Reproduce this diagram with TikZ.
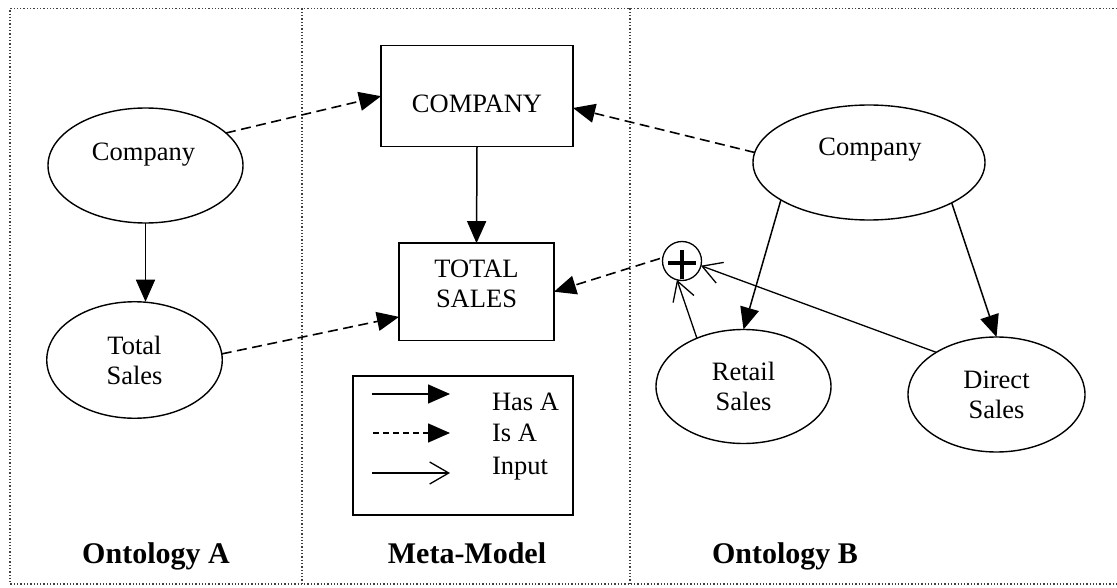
\documentclass[tikz,border=0pt]{standalone}
\usepackage{fontspec}
\setmainfont{Liberation Serif}
\usetikzlibrary{arrows.meta,shapes.geometric}
\begin{document}
\begin{tikzpicture}[x=1pt,y=-1pt,
  every node/.style={inner sep=0pt, outer sep=0pt},
  txt/.style={font=\fontsize{26.5}{30}\selectfont, align=center},
  ttl/.style={font=\fontsize{30}{34}\selectfont\bfseries},
  oval/.style={draw, ellipse, line width=1.4pt},
  box/.style={draw, rectangle, line width=1.4pt},
  frame/.style={line width=1.3pt, black!75, dash pattern=on 1.3pt off 2pt},
  hasa/.style={line width=1.5pt, -{Triangle[length=22pt,width=19pt]}},
  isa/.style={line width=1.6pt, dash pattern=on 10pt off 5.5pt, -{Triangle[length=22pt,width=19pt]}},
  input/.style={line width=1.3pt, -{Straight Barb[length=19pt,width=22pt]}},
]
\useasboundingbox (0,0) rectangle (1117,588);

% dotted frame and column dividers
\draw[frame] (1117,8.5) -- (10,8.5) -- (10,584) -- (1117,584);
\draw[frame] (302,8.5) -- (302,584);
\draw[frame] (630,8.5) -- (630,584);

% Ontology A
\node[oval, minimum width=195pt, minimum height=115pt] (coA) at (145.5,165.5) {};
\node[txt, anchor=base] (coAtxt) at (143.5,160.8) {Company};
\node[oval, txt, minimum width=175.5pt, minimum height=116.5pt] (tsA) at (134.5,360) {Total\\Sales};

% Meta-model
\node[box, minimum width=192pt, minimum height=101pt] (coM) at (477,96.2) {};
\node[txt, anchor=base] (coMtxt) at (477,112.1) {COMPANY};
\node[box, minimum width=155pt, minimum height=97pt] (tsM) at (476.5,291.7) {};
\node[txt] (tsMtxt) at (476.5,283.5) {TOTAL\\SALES};

% legend
\node[box, minimum width=220pt, minimum height=139pt] (leg) at (463,445.5) {};
\coordinate (l1a) at (372,394); \coordinate (l1b) at (450,394);
\coordinate (l2a) at (373,433); \coordinate (l2b) at (450,433);
\coordinate (l3a) at (372,473); \coordinate (l3b) at (450,473);
\draw[hasa] (l1a) -- (l1b);
\draw[isa, dash pattern=on 6pt off 4pt] (l2a) -- (l2b);
\draw[input] (l3a) -- (l3b);
\node[txt, anchor=base west] (lg1) at (492,410.5) {Has A};
\node[txt, anchor=base west] (lg2) at (492,441.8) {Is A};
\node[txt, anchor=base west] (lg3) at (492,474.5) {Input};

% Ontology B
\node[oval, minimum width=232pt, minimum height=115pt] (coB) at (869,162.5) {};
\node[txt, anchor=base] (coBtxt) at (870,155.5) {Company};
\node[oval, txt, minimum width=175pt, minimum height=114pt] (rsB) at (743.5,386.5) {Retail\\Sales};
\node[oval, txt, minimum width=177pt, minimum height=115pt] (dsB) at (996.5,394.5) {Direct\\Sales};
\node[draw, circle, line width=1.3pt, minimum size=39pt] (sum) at (682,261) {};
\draw[line width=3.6pt] ([xshift=-14pt,yshift=-2pt]sum.center) -- ([xshift=14pt,yshift=-2pt]sum.center);
\draw[line width=4pt] ([yshift=-18pt]sum.center) -- ([yshift=11pt]sum.center);

% has-a links
\draw[hasa] (coA.south) -- (coA.south |- tsA.north);
\draw[hasa] (coM.south) -- (tsM.north);
\draw[hasa] (coB.203) -- (rsB.north);
\draw[hasa] (coB.-26) -- (dsB.north);

% is-a links
\draw[isa] (coA.22) -- (coM.west);
\draw[isa] (tsA.4) -- (tsM.198);
\draw[isa] (coB.175) -- (coM.-7);
\draw[isa, shorten <=3pt] (sum.170) -- (tsM.east);

% inputs to the sum
\draw[input] (rsB.134) -- (sum.-105);
\draw[input] (dsB.145) -- (sum.-14);

% column titles
\node[ttl, anchor=base] (tA) at (156,563) {Ontology A};
\node[ttl, anchor=base] (tM) at (467,563) {Meta-Model};
\node[ttl, anchor=base] (tB) at (785,563) {Ontology B};
\end{tikzpicture}
\end{document}
